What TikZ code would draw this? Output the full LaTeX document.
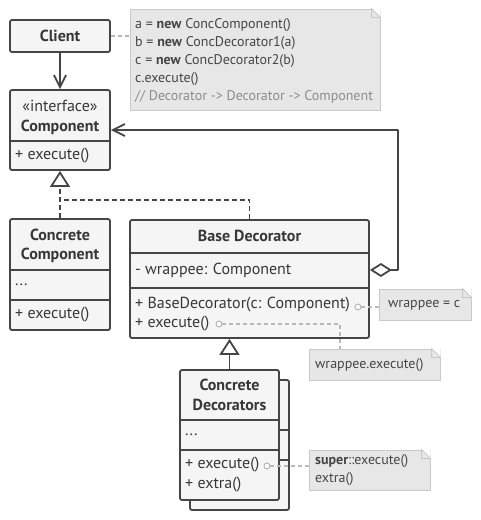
\documentclass[tikz,border=0pt]{standalone}
\usepackage{fontspec}
\setmainfont{PT Sans}
\usetikzlibrary{arrows.meta}

\definecolor{ink}{HTML}{454545}
\definecolor{boxfill}{HTML}{F5F5F5}
\definecolor{notefill}{HTML}{E7E7E7}
\definecolor{noteedge}{HTML}{C9C9C9}
\definecolor{remark}{HTML}{8C8C8C}

\tikzset{
  cls/.style={draw=ink, fill=boxfill, line width=1.8pt, rounded corners=2pt, inner sep=0pt},
  part/.style={draw=ink, line width=1.8pt},
  txt/.style={font=\fontsize{16}{18}\selectfont, text=ink!80!black, inner sep=0pt, anchor=west},
  title/.style={font=\fontsize{16}{18}\selectfont\bfseries, text=ink!80!black, inner sep=0pt},
  note/.style={draw=noteedge, fill=notefill, line width=1pt, inner sep=0pt},
  notetxt/.style={font=\fontsize{14}{18}\selectfont, text=ink, inner sep=0pt, anchor=west},
  dot/.style={circle, draw=black!30, fill=white, line width=0.9pt, minimum size=6pt, inner sep=0pt},
  tie/.style={draw=black!28, line width=1.2pt, dash pattern=on 4pt off 3pt},
  link/.style={draw=ink, line width=1.8pt},
  realize/.style={draw=ink, line width=1.8pt, dash pattern=on 5pt off 3pt},
  open head/.style={-{Straight Barb[length=12pt, width=12pt]}},
  hollow head/.style={-{Triangle[open, length=16pt, width=20pt, fill=white]}},
}

% folded corner of a note
\newcommand{\dogear}[1]{
  \fill[white] ([xshift=-9pt]#1.north east) -- (#1.north east) -- ([yshift=-9pt]#1.north east) -- cycle;
  \draw[noteedge, line width=1pt, line join=round] ([xshift=-9pt]#1.north east) -- ([xshift=-9pt,yshift=-9pt]#1.north east) -- ([yshift=-9pt]#1.north east) -- cycle;
}

\begin{document}
\begin{tikzpicture}[x=1pt, y=-1pt]
  \useasboundingbox (0,0) rectangle (480,520);

  % client and code note
  \node[cls, minimum width=100pt, minimum height=32pt] (client) at (60,36) {};
  \node[title] at (client) {Client};

  \node[note, minimum width=250pt, minimum height=101pt] (codenote) at (255,59.5) {};
  \dogear{codenote}
  \node[notetxt] at (135,25) {a = \textbf{new} ConcComponent()};
  \node[notetxt] at (135,43) {b = \textbf{new} ConcDecorator1(a)};
  \node[notetxt] at (135,61) {c = \textbf{new} ConcDecorator2(b)};
  \node[notetxt] at (135,79) {c.execute()};
  \node[notetxt, text=remark] at (135,97) {// Decorator -> Decorator -> Component};
  \draw[tie] (client.east) -- (client.east -| codenote.west);

  % component interface
  \node[cls, minimum width=100pt, minimum height=80pt] (component) at (60,130) {};
  \draw[part] (10,141) -- (110,141);
  \node[txt, anchor=center] at (60,106) {«interface»};
  \node[title] at (60,127) {Component};
  \node[txt] at (15,156) {+ execute()};

  % concrete component
  \node[cls, minimum width=100pt, minimum height=111pt] (ccomp) at (60,274.5) {};
  \draw[part] (10,270) -- (110,270);
  \draw[part] (10,300) -- (110,300);
  \node[title] at (60,235) {Concrete};
  \node[title] at (60,255) {Component};
  \node[txt] at (15,285) {...};
  \node[txt] at (15,315) {+ execute()};

  % base decorator
  \node[cls, minimum width=239pt, minimum height=118pt] (basedec) at (249.5,279) {};
  \draw[part] (130,253) -- (369,253);
  \draw[part] (130,288) -- (369,288);
  \node[title] at (249.5,236) {Base Decorator};
  \node[txt] at (135,270) {- wrappee: Component};
  \node[txt] at (135,305) {+ BaseDecorator(c: Component)};
  \node[txt] at (135,324) {+ execute()};

  % concrete decorators (stacked)
  \node[cls, minimum width=99pt, minimum height=130pt] (cdecback) at (239.5,445) {};
  \draw[part] (279,430) -- (289,430);
  \draw[part] (279,460) -- (289,460);
  \node[cls, minimum width=99pt, minimum height=130pt] (cdec) at (229.5,435) {};
  \draw[part] (180,420) -- (279,420);
  \draw[part] (180,450) -- (279,450);
  \node[title] at (229.5,385) {Concrete};
  \node[title] at (229.5,405) {Decorators};
  \node[txt] at (185,435) {...};
  \node[txt] at (185,465) {+ execute()};
  \node[txt] at (185,485) {+ extra()};

  % notes
  \node[note, minimum width=92pt, minimum height=31pt] (wrapnote) at (425,304.5) {};
  \dogear{wrapnote}
  \node[notetxt] at (388,305) {wrappee = c};

  \node[note, minimum width=131pt, minimum height=31pt] (execnote) at (374.5,364.5) {};
  \dogear{execnote}
  \node[notetxt] at (315,365) {wrappee.execute()};

  \node[note, minimum width=121pt, minimum height=40pt] (supernote) at (369.5,470) {};
  \dogear{supernote}
  \node[notetxt] at (315,461) {\textbf{super}::execute()};
  \node[notetxt] at (315,479) {extra()};

  % note ties
  \node[dot] (ctordot) at (358,307) {};
  \node[dot] (execdot) at (219,324) {};
  \node[dot] (extradot) at (267,466) {};
  \coordinate (hook) at (340,349);
  \draw[tie] (ctordot) -- (ctordot -| wrapnote.west);
  \draw[tie] (execdot) -| (hook);
  \draw[tie] (extradot) -- (extradot -| supernote.west);

  % relations
  \draw[link, open head] (client.south) -- (component.north);
  \coordinate (fork) at (60,200);
  \draw[realize, hollow head] (ccomp.north) -- (component.south);
  \draw[realize] (basedec.north) |- (fork);
  \draw[link, hollow head] (cdec.north) -- (cdec.north |- basedec.south);
  \coordinate (agg) at (398,270);
  \draw[link, {Diamond[open, length=22pt, width=14pt, fill=white]}-{Straight Barb[length=12pt, width=12pt]}, line join=round] (basedec.east |- agg) -- (agg) |- (component.east |- 0,130);
\end{tikzpicture}
\end{document}
